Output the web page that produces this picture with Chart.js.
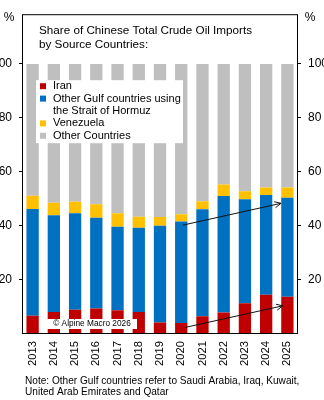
<!DOCTYPE html>
<html>
<head>
<meta charset="utf-8">
<script src="https://cdn.jsdelivr.net/npm/chart.js@4.4.1/dist/chart.umd.min.js"></script>
<style>
  html, body { margin: 0; padding: 0; background: #fff; }
  #wrap { width: 324px; height: 400px; position: relative; }
</style>
</head>
<body>
<div id="wrap"><canvas id="chart" width="324" height="400"></canvas></div>
<script>
// values (% of total crude imports)
const years = ['2013', '2014', '2015', '2016', '2017', '2018', '2019', '2020', '2021', '2022', '2023', '2024', '2025'];
const iran = [6.4, 7.8, 8.6, 9.1, 8.5, 7.8, 3.9, 3.7, 6.2, 7.6, 11.1, 14.2, 13.5];
const otherGulf = [39.7, 36.0, 35.9, 33.7, 31.0, 31.3, 36.0, 37.7, 39.8, 43.3, 38.6, 37.1, 36.8];
const venezuela = [4.9, 4.6, 4.3, 5.1, 5.0, 4.1, 3.2, 2.7, 3.0, 4.3, 3.0, 2.8, 3.8];
const otherCountries = [49.0, 51.6, 51.2, 52.1, 55.5, 56.8, 56.9, 55.9, 51.0, 44.8, 47.3, 45.9, 45.9];
const yTicks = [20, 40, 60, 80, 100];

const titleLines = ['Share of Chinese Total Crude Oil Imports', 'by Source Countries:'];
const noteLines = ['Note: Other Gulf countries refer to Saudi Arabia, Iraq, Kuwait,', 'United Arab Emirates and Qatar'];
const copyright = '\u00A9 Alpine Macro 2026';

// trend arrows, in data space: [category index, value]
const arrows = [
  { from: [7.08, 40.1], to: [11.7, 48.2] },
  { from: [7.2, 2.1], to: [11.78, 10.1] },
];

const FONT = "'Liberation Sans', Arial, Helvetica, sans-serif";
Chart.defaults.font.family = FONT;
Chart.defaults.color = '#000';

const colors = {
  iran: '#C00000',
  gulf: '#0070C0',
  venezuela: '#FFC000',
  other: '#BFBFBF',
};

const decorations = {
  id: 'decorations',
  afterDatasetsDraw(chart) {
    const { ctx, chartArea: a, scales } = chart;
    const x = scales.x, y = scales.y;
    ctx.save();

    // arrows
    ctx.strokeStyle = '#111';
    ctx.lineWidth = 1;
    arrows.forEach(ar => {
      const x1 = x.getPixelForValue(ar.from[0]), y1 = y.getPixelForValue(ar.from[1]);
      const x2 = x.getPixelForValue(ar.to[0]), y2 = y.getPixelForValue(ar.to[1]);
      const ang = Math.atan2(y2 - y1, x2 - x1);
      ctx.beginPath();
      ctx.moveTo(x1, y1);
      ctx.lineTo(x2, y2);
      const h = 7;
      ctx.moveTo(x2 - h * Math.cos(ang - 0.45), y2 - h * Math.sin(ang - 0.45));
      ctx.lineTo(x2, y2);
      ctx.lineTo(x2 - h * Math.cos(ang + 0.45), y2 - h * Math.sin(ang + 0.45));
      ctx.stroke();
    });

    // legend box
    const lx = a.left + 14, ly = a.top + 66;
    ctx.fillStyle = '#fff';
    ctx.fillRect(lx, ly, 147, 63);
    ctx.font = '11px ' + FONT;
    ctx.textBaseline = 'middle';
    ctx.textAlign = 'left';
    let row = ly + 6;
    chart.data.datasets.forEach(ds => {
      const lines = Array.isArray(ds.label) ? ds.label : [ds.label];
      ctx.fillStyle = ds.backgroundColor;
      ctx.fillRect(lx + 4, row - 3, 6, 6);
      ctx.fillStyle = '#000';
      lines.forEach(t => {
        ctx.fillText(t, lx + 17, row);
        row += 12.4;
      });
    });

    // copyright box
    ctx.fillStyle = '#fff';
    ctx.fillRect(a.left + 25, a.bottom - 14, 90, 10);
    ctx.fillStyle = '#000';
    ctx.font = '8.3px ' + FONT;
    ctx.textAlign = 'center';
    ctx.fillText(copyright, a.left + 70, a.bottom - 9);

    // title inside frame
    ctx.font = '11.7px ' + FONT;
    ctx.textAlign = 'left';
    ctx.fillText(titleLines[0], a.left + 17, 31);
    ctx.fillText(titleLines[1], a.left + 17, 45);

    // frame
    ctx.strokeStyle = '#000';
    ctx.strokeRect(a.left + 0.5, a.top + 0.5, a.right - a.left - 1, a.bottom - a.top);
    ctx.restore();
  },
  afterDraw(chart) {
    const { ctx } = chart;
    ctx.save();
    ctx.fillStyle = '#000';
    ctx.textBaseline = 'middle';
    ctx.font = '12px ' + FONT;
    ctx.textAlign = 'center';
    ctx.fillText('%', 9, 18);
    ctx.fillText('%', 310, 18);
    ctx.font = '10.1px ' + FONT;
    ctx.textAlign = 'left';
    ctx.fillText(noteLines[0], 25, 381);
    ctx.fillText(noteLines[1], 25, 392);
    ctx.restore();
  }
};

const yAxis = (pos, w) => ({
  position: pos,
  stacked: true,
  min: 0,
  max: 118.5,
  afterBuildTicks: s => { s.ticks = yTicks.map(v => ({ value: v })); },
  grid: { drawOnChartArea: false, drawTicks: true, tickLength: 3, color: '#000' },
  border: { display: false },
  ticks: { padding: 7, color: '#000', font: { size: 12 } },
  afterFit: s => { s.width = w; },
});

new Chart(document.getElementById('chart'), {
  type: 'bar',
  data: {
    labels: years,
    datasets: [
      { label: 'Iran', data: iran, backgroundColor: colors.iran },
      { label: ['Other Gulf countries using', 'the Strait of Hormuz'], data: otherGulf, backgroundColor: colors.gulf },
      { label: 'Venezuela', data: venezuela, backgroundColor: colors.venezuela },
      { label: 'Other Countries', data: otherCountries, backgroundColor: colors.other },
    ].map(d => Object.assign(d, { barPercentage: 0.58, categoryPercentage: 1, borderWidth: 0 })),
  },
  options: {
    responsive: false,
    animation: false,
    layout: { padding: { top: 13, left: 0, right: 0, bottom: 0 } },
    plugins: { legend: { display: false }, tooltip: { enabled: false } },
    scales: {
      x: {
        stacked: true,
        grid: { display: false, drawTicks: false },
        border: { display: false },
        ticks: { minRotation: 90, maxRotation: 90, autoSkip: false, padding: 8, color: '#000', font: { size: 11.2 } },
        afterFit: s => { s.height = 67; },
      },
      y: yAxis('left', 22),
      y2: yAxis('right', 26),
    },
  },
  plugins: [decorations],
});
</script>
</body>
</html>
